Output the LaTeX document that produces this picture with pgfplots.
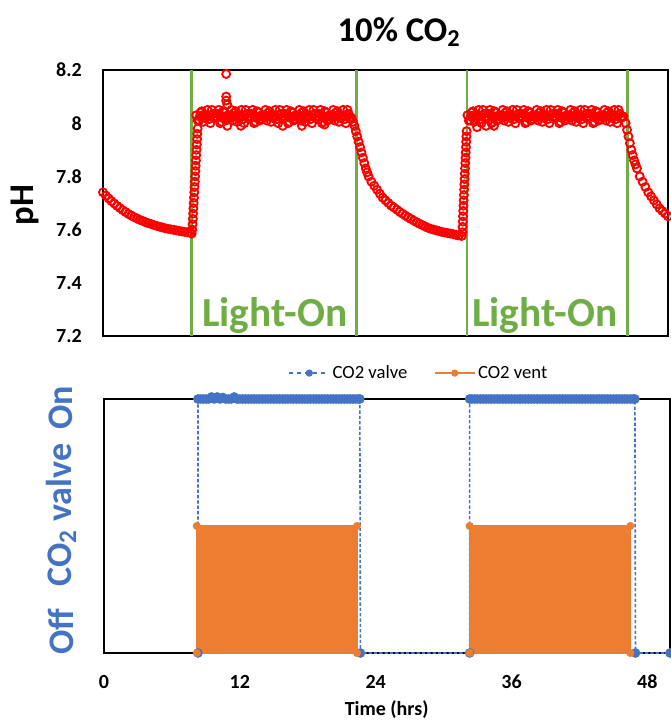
\documentclass[border=0pt]{standalone}
\usepackage{pgfplots}
\pgfplotsset{compat=1.18}
\usepackage{fontspec}
\setmainfont{Carlito}
\definecolor{xred}{HTML}{FF0000}
\definecolor{xgreen}{HTML}{70AD47}
\definecolor{xblue}{HTML}{4472C4}
\definecolor{xorange}{HTML}{ED7D31}
\begin{document}
\begin{tikzpicture}
\useasboundingbox (0pt,0pt) rectangle (503.25pt,540.75pt);
\node[font=\fontsize{26}{30}\selectfont\bfseries] at (299.25pt,516.75pt) {10\% CO\textsubscript{2}};
\node[font=\fontsize{26}{30}\selectfont\bfseries, rotate=90] at (18.75pt,387pt) {pH};
\begin{axis}[
  at={(77.25pt,288.75pt)}, anchor=south west,
  scale only axis, width=423.75pt, height=199.5pt,
  xmin=0, xmax=50, ymin=7.2, ymax=8.2,
  xtick=\empty,
  ytick={7.2,7.4,7.6,7.8,8,8.2},
  yticklabels={7.2,7.4,7.6,7.8,8,8.2},
  major tick length=0pt,
  yticklabel style={font=\fontsize{15}{18}\selectfont\bfseries, anchor=east, inner sep=0pt, xshift=-15.75pt},
  axis line style={black, line width=1.2pt},
]
\addplot[only marks, mark=o, mark size=3pt, color=xred, mark options={line width=1.4pt}] coordinates {
(0,7.740)(0.25,7.728)(0.5,7.717)(0.75,7.707)(1,7.698)(1.25,7.689)(1.5,7.681)(1.75,7.673)(2,7.666)(2.25,7.659)(2.5,7.653)(2.75,7.647)(3,7.642)(3.25,7.637)(3.5,7.633)(3.75,7.628)(4,7.624)(4.25,7.621)(4.5,7.617)(4.75,7.614)(5,7.611)(5.25,7.608)(5.5,7.605)(5.75,7.603)(6,7.601)(6.25,7.599)(6.5,7.597)(6.75,7.595)(7,7.593)(7.25,7.591)(7.5,7.590)(7.75,7.589)(7.85,7.585)
(7.9,7.60)(7.925,7.62)(7.95,7.64)(7.975,7.66)(8.0,7.68)(8.025,7.70)(8.05,7.72)(8.075,7.74)(8.1,7.76)(8.125,7.78)(8.15,7.80)(8.175,7.82)(8.2,7.84)(8.225,7.86)(8.25,7.88)(8.275,7.90)(8.3,7.92)(8.325,7.94)(8.35,7.96)(8.375,7.98)
(8.25,8.03)(8.375,8.01)
(8.5,8.01)(8.75,8.045)(9,8.02)(9.25,8.05)(9.5,8.00)(9.75,8.035)(10,8.025)(10.25,8.05)(10.5,8.005)(10.75,8.04)(11,8.015)(11.25,8.03)
(11.5,8.01)(11.75,8.045)(12,8.02)(12.25,8.05)(12.5,8.00)(12.75,8.035)(13,8.025)(13.25,8.05)(13.5,8.005)(13.75,8.04)(14,8.015)(14.25,8.03)
(14.5,8.01)(14.75,8.045)(15,8.02)(15.25,8.05)(15.5,8.00)(15.75,8.035)(16,8.025)(16.25,8.05)(16.5,8.005)(16.75,8.04)(17,8.015)(17.25,8.03)
(17.5,8.01)(17.75,8.045)(18,8.02)(18.25,8.05)(18.5,8.00)(18.75,8.035)(19,8.025)(19.25,8.05)(19.5,8.005)(19.75,8.04)(20,8.015)(20.25,8.03)
(20.5,8.01)(20.75,8.045)(21,8.02)(21.25,8.05)(21.5,8.00)(21.75,8.035)
(8.625,8.04)(8.875,8.005)(9.125,8.03)(9.375,8.015)(9.625,8.05)(9.875,8.02)(10.125,8.035)(10.375,8.00)(10.625,8.045)(10.875,8.01)(11.125,8.025)(11.375,8.05)
(11.625,8.04)(11.875,8.005)(12.125,8.03)(12.375,8.015)(12.625,8.05)(12.875,8.02)(13.125,8.035)(13.375,8.00)(13.625,8.045)(13.875,8.01)(14.125,8.025)(14.375,8.05)
(14.625,8.04)(14.875,8.005)(15.125,8.03)(15.375,8.015)(15.625,8.05)(15.875,8.02)(16.125,8.035)(16.375,8.00)(16.625,8.045)(16.875,8.01)(17.125,8.025)(17.375,8.05)
(17.625,8.04)(17.875,8.005)(18.125,8.03)(18.375,8.015)(18.625,8.05)(18.875,8.02)(19.125,8.035)(19.375,8.00)(19.625,8.045)(19.875,8.01)(20.125,8.025)(20.375,8.05)
(20.625,8.04)(20.875,8.005)(21.125,8.03)(21.375,8.015)(21.625,8.05)(21.875,8.02)
(8.56,8.025)(8.81,8.03)(9.06,8.02)(9.31,8.025)(9.56,8.03)(9.81,8.02)(10.06,8.025)(10.31,8.03)(10.56,8.02)(10.81,8.025)(11.06,8.03)(11.31,8.02)
(11.56,8.025)(11.81,8.03)(12.06,8.02)(12.31,8.025)(12.56,8.03)(12.81,8.02)(13.06,8.025)(13.31,8.03)(13.56,8.02)(13.81,8.025)(14.06,8.03)(14.31,8.02)
(14.56,8.025)(14.81,8.03)(15.06,8.02)(15.31,8.025)(15.56,8.03)(15.81,8.02)(16.06,8.025)(16.31,8.03)(16.56,8.02)(16.81,8.025)(17.06,8.03)(17.31,8.02)
(17.56,8.025)(17.81,8.03)(18.06,8.02)(18.31,8.025)(18.56,8.03)(18.81,8.02)(19.06,8.025)(19.31,8.03)(19.56,8.02)(19.81,8.025)(20.06,8.03)(20.31,8.02)
(20.56,8.025)(20.81,8.03)(21.06,8.02)(21.31,8.025)(21.56,8.03)(21.81,8.02)
(10.9,8.185)(10.9,8.10)(10.9,8.085)(11.0,8.07)(11.0,7.99)(12.2,7.99)(15.9,7.99)(17.6,7.99)(19.6,7.995)
(22.0,8.02)(22.25,7.99)(22.5,7.95)(22.75,7.91)(23.0,7.87)(23.25,7.83)(23.5,7.80)(23.75,7.78)(24.0,7.765)(24.25,7.75)(24.5,7.735)(24.75,7.72)(25.0,7.71)(25.25,7.70)(25.5,7.69)(25.75,7.683)(26.0,7.675)(26.25,7.667)(26.5,7.66)(26.75,7.653)(27.0,7.646)(27.25,7.64)(27.5,7.634)(27.75,7.628)(28.0,7.622)(28.25,7.617)(28.5,7.612)(28.75,7.607)(29.0,7.603)(29.25,7.60)(29.5,7.597)(29.75,7.594)(30.0,7.591)(30.25,7.589)(30.5,7.587)(30.75,7.585)(31.0,7.583)(31.25,7.58)(31.5,7.578)(31.75,7.576)
(22.125,8.005)(22.375,7.97)(22.625,7.93)(22.875,7.89)(23.125,7.85)(23.375,7.815)
(31.8,7.59)(31.82,7.61)(31.84,7.63)(31.86,7.65)(31.88,7.67)(31.9,7.69)(31.92,7.71)(31.94,7.73)(31.96,7.75)(31.98,7.77)(32.0,7.79)(32.02,7.81)(32.04,7.83)(32.06,7.85)(32.08,7.87)(32.1,7.89)(32.12,7.91)(32.14,7.93)(32.16,7.95)(32.18,7.97)
(32.25,8.03)(32.375,8.01)
(32.5,8.01)(32.75,8.045)(33,8.02)(33.25,8.05)(33.5,8.00)(33.75,8.035)(34,8.025)(34.25,8.05)(34.5,8.005)(34.75,8.04)(35,8.015)(35.25,8.03)
(35.5,8.01)(35.75,8.045)(36,8.02)(36.25,8.05)(36.5,8.00)(36.75,8.035)(37,8.025)(37.25,8.05)(37.5,8.005)(37.75,8.04)(38,8.015)(38.25,8.03)
(38.5,8.01)(38.75,8.045)(39,8.02)(39.25,8.05)(39.5,8.00)(39.75,8.035)(40,8.025)(40.25,8.05)(40.5,8.005)(40.75,8.04)(41,8.015)(41.25,8.03)
(41.5,8.01)(41.75,8.045)(42,8.02)(42.25,8.05)(42.5,8.00)(42.75,8.035)(43,8.025)(43.25,8.05)(43.5,8.005)(43.75,8.04)(44,8.015)(44.25,8.03)
(44.5,8.01)(44.75,8.045)(45,8.02)(45.25,8.05)(45.5,8.00)(45.75,8.035)(46,8.025)
(32.625,8.04)(32.875,8.005)(33.125,8.03)(33.375,8.015)(33.625,8.05)(33.875,8.02)(34.125,8.035)(34.375,8.00)(34.625,8.045)(34.875,8.01)(35.125,8.025)(35.375,8.05)
(35.625,8.04)(35.875,8.005)(36.125,8.03)(36.375,8.015)(36.625,8.05)(36.875,8.02)(37.125,8.035)(37.375,8.00)(37.625,8.045)(37.875,8.01)(38.125,8.025)(38.375,8.05)
(38.625,8.04)(38.875,8.005)(39.125,8.03)(39.375,8.015)(39.625,8.05)(39.875,8.02)(40.125,8.035)(40.375,8.00)(40.625,8.045)(40.875,8.01)(41.125,8.025)(41.375,8.05)
(41.625,8.04)(41.875,8.005)(42.125,8.03)(42.375,8.015)(42.625,8.05)(42.875,8.02)(43.125,8.035)(43.375,8.00)(43.625,8.045)(43.875,8.01)(44.125,8.025)(44.375,8.05)
(44.625,8.04)(44.875,8.005)(45.125,8.03)(45.375,8.015)(45.625,8.05)(45.875,8.02)
(32.56,8.025)(32.81,8.03)(33.06,8.02)(33.31,8.025)(33.56,8.03)(33.81,8.02)(34.06,8.025)(34.31,8.03)(34.56,8.02)(34.81,8.025)(35.06,8.03)(35.31,8.02)
(35.56,8.025)(35.81,8.03)(36.06,8.02)(36.31,8.025)(36.56,8.03)(36.81,8.02)(37.06,8.025)(37.31,8.03)(37.56,8.02)(37.81,8.025)(38.06,8.03)(38.31,8.02)
(38.56,8.025)(38.81,8.03)(39.06,8.02)(39.31,8.025)(39.56,8.03)(39.81,8.02)(40.06,8.025)(40.31,8.03)(40.56,8.02)(40.81,8.025)(41.06,8.03)(41.31,8.02)
(41.56,8.025)(41.81,8.03)(42.06,8.02)(42.31,8.025)(42.56,8.03)(42.81,8.02)(43.06,8.025)(43.31,8.03)(43.56,8.02)(43.81,8.025)(44.06,8.03)(44.31,8.02)
(44.56,8.025)(44.81,8.03)(45.06,8.02)(45.31,8.025)(45.56,8.03)(45.81,8.02)(46.06,8.025)
(33.1,7.985)(33.9,7.99)(34.6,7.99)
(46.25,8.00)(46.5,7.95)(46.75,7.90)(47.0,7.86)(47.25,7.83)(47.5,7.80)(47.75,7.78)(48.0,7.76)(48.25,7.74)(48.5,7.725)(48.75,7.71)(49.0,7.695)(49.25,7.68)(49.5,7.67)(49.75,7.66)(50.0,7.65)
(46.375,7.975)(46.625,7.925)(46.875,7.88)(47.125,7.845)
};
\addplot[xgreen, line width=2pt] coordinates {(7.85,7.2)(7.85,8.2)};
\addplot[xgreen, line width=2pt] coordinates {(22.45,7.2)(22.45,8.2)};
\addplot[xgreen, line width=2pt] coordinates {(32.2,7.2)(32.2,8.2)};
\addplot[xgreen, line width=2pt] coordinates {(46.4,7.2)(46.4,8.2)};
\node[anchor=base, text=xgreen, font=\fontsize{31}{36}\selectfont\bfseries] at (axis cs:15.2,7.234) {Light-On};
\node[anchor=base, text=xgreen, font=\fontsize{31}{36}\selectfont\bfseries] at (axis cs:39.1,7.234) {Light-On};
\end{axis}
\node[font=\fontsize{27}{32}\selectfont\bfseries, text=xblue, rotate=90] at (45.75pt,234.75pt) {On};
\node[font=\fontsize{27}{32}\selectfont\bfseries, text=xblue, rotate=90] at (45.75pt,154.5pt) {CO\textsubscript{2} valve};
\node[font=\fontsize{27}{32}\selectfont\bfseries, text=xblue, rotate=90] at (45.75pt,66.75pt) {Off};
\node[font=\fontsize{15}{18}\selectfont\bfseries] at (290pt,8.25pt) {Time (hrs)};
\begin{axis}[
  at={(78pt,51pt)}, anchor=south west,
  scale only axis, width=424.5pt, height=190.5pt,
  xmin=0, xmax=50, ymin=0, ymax=1,
  xtick={0,12,24,36,48}, xticklabels={0,12,24,36,48}, ytick=\empty,
  major tick length=0pt,
  xticklabel style={font=\fontsize{15}{18}\selectfont\bfseries, anchor=center, inner sep=0pt, yshift=-21.75pt},
  axis line style={black, line width=0.9pt},
  clip=false,
  legend style={at={(0.557,1.102)}, anchor=center, draw=none, fill=none, legend columns=2,
    font=\fontsize{14}{16}\selectfont, /tikz/every even column/.append style={column sep=18pt}},
  legend image code/.code={\draw[mark repeat=2,mark phase=2] plot coordinates {(0pt,0pt) (15pt,0pt) (30pt,0pt)};},
]
\addlegendimage{xblue, dashed, line width=1pt, mark=*, mark size=2.2pt, mark options={solid}}
\addlegendentry{CO2 valve}
\addlegendimage{xorange, line width=1pt, mark=*, mark size=2.2pt}
\addlegendentry{CO2 vent}
\addplot[forget plot, xblue, line width=1.2pt, dash pattern=on 2.5pt off 1.5pt, mark=*, mark size=3pt, mark options={solid}] coordinates {
(8.3,0)(8.3,1)(8.5,1)(8.75,1)(9,1)(9.25,1)(9.5,1.008)(9.75,1)(10,1.008)(10.25,1)(10.5,1.006)(10.75,1)(11,1)(11.25,1)(11.5,1.008)(11.75,1)(12,1)(12.25,1)(12.5,1)(12.75,1)(13,1)(13.25,1)(13.5,1)(13.75,1)(14,1)(14.25,1)(14.5,1)(14.75,1)(15,1)(15.25,1)(15.5,1)(15.75,1)(16,1)(16.25,1)(16.5,1)(16.75,1)(17,1)(17.25,1)(17.5,1)(17.75,1)(18,1)(18.25,1)(18.5,1)(18.75,1)(19,1)(19.25,1)(19.5,1)(19.75,1)(20,1)(20.25,1)(20.5,1)(20.75,1)(21,1)(21.25,1)(21.5,1)(21.75,1)(22,1)(22.25,1)(22.5,1)(22.6,1)(22.65,0)
(32.3,0)(32.3,1)(32.5,1)(32.75,1)(33,1)(33.25,1)(33.5,1)(33.75,1)(34,1)(34.25,1)(34.5,1)(34.75,1)(35,1)(35.25,1)(35.5,1)(35.75,1)(36,1)(36.25,1)(36.5,1)(36.75,1)(37,1)(37.25,1)(37.5,1)(37.75,1)(38,1)(38.25,1)(38.5,1)(38.75,1)(39,1)(39.25,1)(39.5,1)(39.75,1)(40,1)(40.25,1)(40.5,1)(40.75,1)(41,1)(41.25,1)(41.5,1)(41.75,1)(42,1)(42.25,1)(42.5,1)(42.75,1)(43,1)(43.25,1)(43.5,1)(43.75,1)(44,1)(44.25,1)(44.5,1)(44.75,1)(45,1)(45.25,1)(45.5,1)(45.75,1)(46,1)(46.25,1)(46.5,1)(46.75,1)(46.9,1)(46.95,0)(50,0)
};
\addplot[forget plot, xorange, fill=xorange, line width=1pt, mark=*, mark size=2.5pt] coordinates {(8.2,0)(8.2,0.5)(22.35,0.5)(22.35,0)} -- cycle;
\addplot[forget plot, xorange, fill=xorange, line width=1pt, mark=*, mark size=2.5pt] coordinates {(32.3,0)(32.3,0.5)(46.5,0.5)(46.5,0)} -- cycle;
\end{axis}
\end{tikzpicture}
\end{document}
